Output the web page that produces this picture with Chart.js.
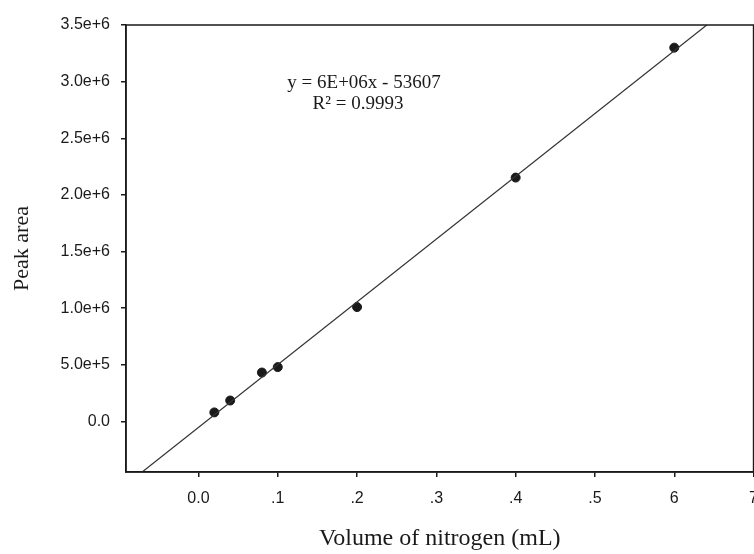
<!DOCTYPE html>
<html>
<head>
<meta charset="utf-8">
<script src="https://cdn.jsdelivr.net/npm/chart.js@4.4.1/dist/chart.umd.min.js"></script>
<style>
  html, body { margin: 0; padding: 0; background: #fff; overflow: hidden; }
  #wrap { width: 770px; height: 554px; }
</style>
</head>
<body>
<div id="wrap"><canvas id="chart" width="770" height="554"></canvas></div>
<script>
// calibration points
const volumes = [0.02, 0.04, 0.08, 0.1, 0.2, 0.4, 0.6];
const peakAreas = [80000, 185000, 432000, 480000, 1010000, 2153000, 3300000];

// fitted line, where it meets the frame
const trendX = [-0.071, 0.641];
const trendY = [-446000, 3500000];

const xTicks = [0, 0.1, 0.2, 0.3, 0.4, 0.5, 0.6, 0.7];
const xTickLabels = ['0.0', '.1', '.2', '.3', '.4', '.5', '6', '7'];
const yTicks = [0, 500000, 1000000, 1500000, 2000000, 2500000, 3000000, 3500000];
const yTickLabels = ['0.0', '5.0e+5', '1.0e+6', '1.5e+6', '2.0e+6', '2.5e+6', '3.0e+6', '3.5e+6'];

const equationLines = ['y = 6E+06x - 53607', 'R\u00b2 = 0.9993'];

const ink = '#1a1a1a';
const tickFont = { family: '"Liberation Sans", Arial, sans-serif', size: 16 };
const titleFamily = '"Liberation Serif", "Times New Roman", serif';

// frame around the plot + regression text
const frameAndLabel = {
  id: 'frameAndLabel',
  afterDatasetsDraw(chart) {
    const { ctx, chartArea: a } = chart;
    ctx.save();
    ctx.strokeStyle = ink;
    ctx.lineWidth = 1.5;
    ctx.strokeRect(a.left, a.top, a.right - a.left, a.bottom - a.top);
    ctx.fillStyle = ink;
    ctx.font = '19px ' + titleFamily;
    ctx.textAlign = 'center';
    ctx.textBaseline = 'middle';
    ctx.fillText(equationLines[0], 364, 83);
    ctx.fillText(equationLines[1], 358, 104);
    ctx.restore();
  }
};

new Chart(document.getElementById('chart'), {
  type: 'scatter',
  data: {
    datasets: [
      {
        type: 'line',
        label: 'fit',
        data: trendX.map((x, i) => ({ x: x, y: trendY[i] })),
        borderColor: '#333',
        borderWidth: 1.2,
        pointRadius: 0,
        fill: false
      },
      {
        label: 'peak area',
        data: volumes.map((v, i) => ({ x: v, y: peakAreas[i] })),
        backgroundColor: ink,
        borderColor: ink,
        pointRadius: 4.5,
        pointHoverRadius: 4.5
      }
    ]
  },
  options: {
    responsive: false,
    animation: false,
    layout: { padding: { top: 25, left: 0, right: 0, bottom: 0 } },
    plugins: {
      legend: { display: false },
      tooltip: { enabled: false }
    },
    scales: {
      x: {
        type: 'linear',
        min: -0.0914,
        max: 0.7,
        afterBuildTicks: (scale) => { scale.ticks = xTicks.map(v => ({ value: v })); },
        afterFit: (scale) => { scale.height = 82; },
        ticks: {
          color: ink,
          font: tickFont,
          padding: 12,
          maxRotation: 0,
          autoSkip: false,
          callback: (v, i) => xTickLabels[i]
        },
        grid: { drawOnChartArea: false, drawTicks: true, tickLength: 5, color: ink, lineWidth: 1.5 },
        border: { display: true, color: ink, width: 1.5 },
        title: {
          display: true,
          text: 'Volume of nitrogen (mL)',
          color: ink,
          font: { family: titleFamily, size: 24 },
          padding: { top: 0, bottom: 1 }
        }
      },
      y: {
        type: 'linear',
        min: -446000,
        max: 3500000,
        afterBuildTicks: (scale) => { scale.ticks = yTicks.map(v => ({ value: v })); },
        afterFit: (scale) => { scale.width = 126; },
        ticks: {
          color: ink,
          font: tickFont,
          padding: 11,
          autoSkip: false,
          callback: (v, i) => yTickLabels[i]
        },
        grid: { drawOnChartArea: false, drawTicks: true, tickLength: 5, color: ink, lineWidth: 1.5 },
        border: { display: true, color: ink, width: 1.5 },
        title: {
          display: true,
          text: 'Peak area',
          color: ink,
          font: { family: titleFamily, size: 22 },
          padding: { top: 9, bottom: 0 }
        }
      }
    }
  },
  plugins: [frameAndLabel]
});
</script>
</body>
</html>
